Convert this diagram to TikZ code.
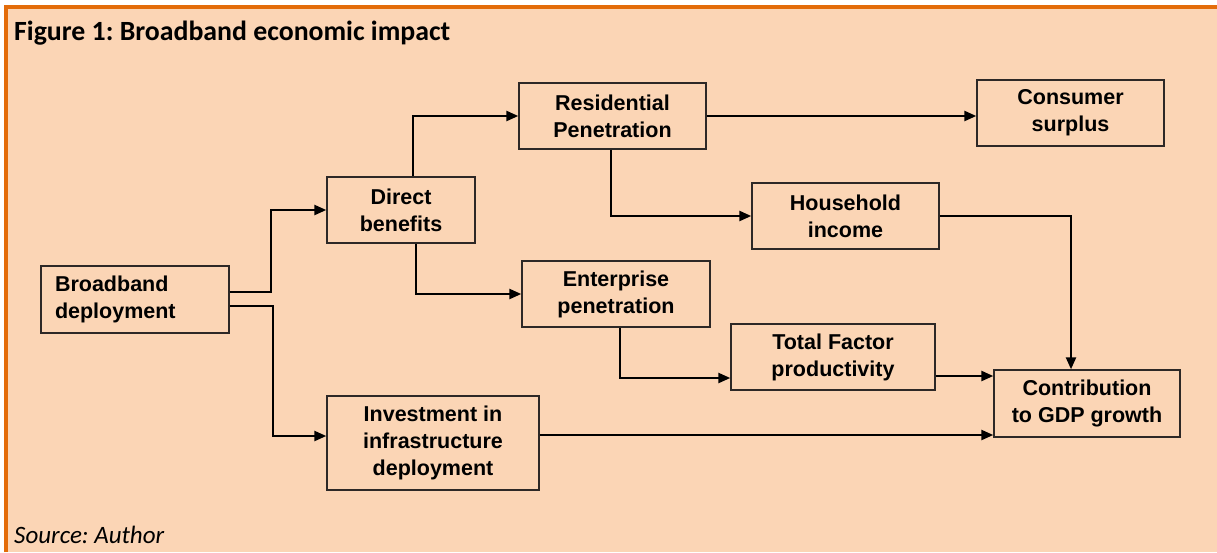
\documentclass[tikz,border=0pt]{standalone}
\usepackage{fontspec}
\setmainfont{Liberation Sans}
\newfontfamily\calibrifont{Carlito}
\usetikzlibrary{arrows.meta}
\frenchspacing

\definecolor{panelfill}{RGB}{251,213,181}
\definecolor{panelrule}{RGB}{227,108,10}
\definecolor{boxrule}{RGB}{45,40,38}

\begin{document}
\begin{tikzpicture}[
  x=1pt, y=-1pt,
  % Estilos de bloques
  box/.style={draw=boxrule, line width=1.4pt, rectangle, align=center,
    inner sep=0pt, font=\bfseries\fontsize{21.5pt}{27pt}\selectfont},
  % Estilos de flechas
  line/.style={draw, line width=2.4pt, -{Triangle[length=12pt, width=10pt]}}
]

  % ==========================================
  % PANEL Y MARCO
  % ==========================================
  \useasboundingbox (0,0) rectangle (1217,552);
  \fill[panelfill] (4,5) rectangle (1217,552);
  \draw[panelrule, line width=4pt] (6,552) -- (6,7) -- (1217,7);

  \node[anchor=base west, inner sep=0pt, font=\calibrifont\bfseries\fontsize{27.8pt}{33pt}\selectfont] (titulo) at (14,40) {Figure 1: Broadband economic impact};
  \node[anchor=base west, inner sep=0pt, font=\calibrifont\itshape\fontsize{25pt}{30pt}\selectfont] (fuente) at (14,543) {Source: Author};

  % ==========================================
  % BLOQUES
  % ==========================================
  \node[box, minimum width=188, minimum height=67, text width=160, align=left] (deploy) at (135,299.5) {Broadband\\deployment};
  \node[box, minimum width=148, minimum height=66] (direct) at (401,210) {Direct\\benefits};
  \node[box, minimum width=212, minimum height=94] (invest) at (433,443) {Investment in\\infrastructure\\deployment};
  \node[box, minimum width=187, minimum height=66] (resid) at (612.5,116) {Residential\\Penetration};
  \node[box, minimum width=188, minimum height=66] (enterprise) at (616,294) {Enterprise\\penetration};
  \node[box, minimum width=187, minimum height=66] (household) at (845.5,216) {Household\\income};
  \node[box, minimum width=204, minimum height=66] (tfp) at (833,357) {Total Factor\\productivity};
  \node[box, minimum width=187, minimum height=66] (consumer) at (1070.5,113) {Consumer\\surplus};
  \node[box, minimum width=186, minimum height=67] (gdp) at (1087,403.5) {Contribution\\to GDP growth};

  % ==========================================
  % CONEXIONES
  % ==========================================
  \draw[line] ([yshift=7.5pt]deploy.east) -- ++(41,0) |- (direct.west);
  \draw[line] ([yshift=-6.5pt]deploy.east) -- ++(43,0) |- ([yshift=7pt]invest.west);
  \draw[line] ([xshift=12pt]direct.north) |- (resid.west);
  \draw[line] ([xshift=15pt]direct.south) |- (enterprise.west);
  \draw[line] (resid.east) -- (resid.east -| consumer.west);
  \draw[line] ([xshift=-1.5pt]resid.south) |- (household.west);
  \draw[line] (household.east) -| ([xshift=-16pt]gdp.north);
  \draw[line] ([xshift=4pt]enterprise.south) |- ([yshift=-21pt]tfp.west);
  \draw[line] ([yshift=-19pt]tfp.east) -- ([yshift=-19pt]tfp.east -| gdp.west);
  \draw[line] ([yshift=8pt]invest.east) -- ([yshift=8pt]invest.east -| gdp.west);

\end{tikzpicture}
\end{document}
